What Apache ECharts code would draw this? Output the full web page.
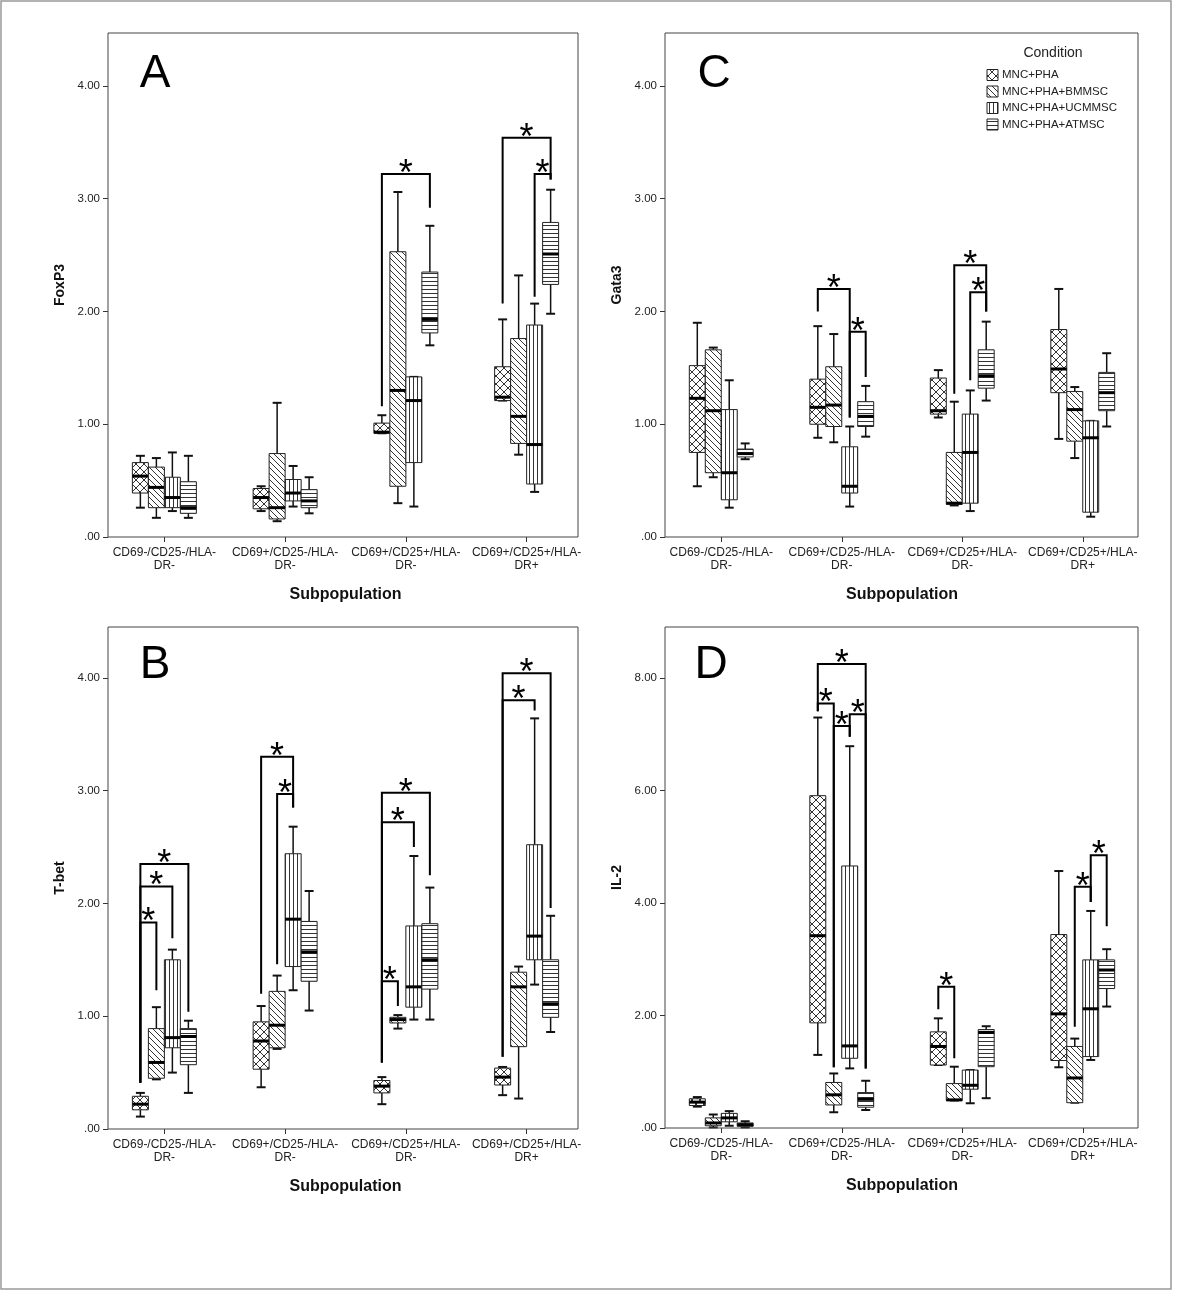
<!DOCTYPE html>
<html><head><meta charset="utf-8">
<script src="https://cdn.jsdelivr.net/npm/echarts@6/dist/echarts.min.js"></script>
<style>html,body{margin:0;padding:0;background:#fff}#chart{width:1184px;height:1301px}</style>
</head><body><div id="chart"></div>
<script>
// ---------- categories / conditions ----------
const subpopulations = ['CD69-/CD25-/HLA-DR-', 'CD69+/CD25-/HLA-DR-', 'CD69+/CD25+/HLA-DR-', 'CD69+/CD25+/HLA-DR+'];
const conditions = ['MNC+PHA', 'MNC+PHA+BMMSC', 'MNC+PHA+UCMMSC', 'MNC+PHA+ATMSC'];
const yTicks4 = [0, 1, 2, 3, 4];
const yTicks8 = [0, 2, 4, 6, 8];

// ---------- box statistics: [low whisker, Q1, median, Q3, high whisker] per subpopulation ----------
const foxp3_PHA    = [[0.26,0.39,0.54,0.66,0.72],[0.23,0.25,0.35,0.43,0.45],[0.92,0.92,0.93,1.01,1.08],[1.21,1.21,1.24,1.51,1.93]];
const foxp3_BMMSC  = [[0.17,0.26,0.44,0.62,0.70],[0.14,0.16,0.26,0.74,1.19],[0.30,0.45,1.30,2.53,3.06],[0.73,0.83,1.07,1.76,2.32]];
const foxp3_UCMMSC = [[0.23,0.26,0.35,0.53,0.75],[0.27,0.32,0.39,0.51,0.63],[0.27,0.66,1.21,1.42,1.42],[0.40,0.47,0.82,1.88,2.07]];
const foxp3_ATMSC  = [[0.17,0.21,0.26,0.49,0.72],[0.21,0.26,0.32,0.42,0.53],[1.70,1.81,1.93,2.35,2.76],[1.98,2.24,2.51,2.79,3.08]];

const gata3_PHA    = [[0.45,0.75,1.23,1.52,1.90],[0.88,1.00,1.15,1.40,1.87],[1.06,1.09,1.12,1.41,1.48],[0.87,1.28,1.49,1.84,2.20]];
const gata3_BMMSC  = [[0.53,0.57,1.12,1.66,1.68],[0.84,0.98,1.17,1.51,1.80],[0.28,0.29,0.30,0.75,1.20],[0.70,0.85,1.13,1.29,1.33]];
const gata3_UCMMSC = [[0.26,0.33,0.57,1.13,1.39],[0.27,0.39,0.45,0.80,0.98],[0.23,0.30,0.75,1.09,1.30],[0.18,0.22,0.88,1.03,1.03]];
const gata3_ATMSC  = [[0.69,0.71,0.74,0.78,0.83],[0.89,0.98,1.07,1.20,1.34],[1.21,1.32,1.43,1.66,1.91],[0.98,1.12,1.28,1.46,1.63]];

const tbet_PHA     = [[0.11,0.17,0.22,0.29,0.32],[0.37,0.53,0.78,0.95,1.09],[0.22,0.32,0.38,0.43,0.46],[0.30,0.39,0.46,0.54,0.55]];
const tbet_BMMSC   = [[0.44,0.45,0.59,0.89,1.08],[0.71,0.72,0.92,1.22,1.36],[0.89,0.94,0.97,0.99,1.01],[0.27,0.73,1.26,1.39,1.44]];
const tbet_UCMMSC  = [[0.50,0.72,0.81,1.50,1.59],[1.23,1.44,1.86,2.44,2.68],[0.97,1.08,1.26,1.80,2.42],[1.28,1.50,1.71,2.52,3.64]];
const tbet_ATMSC   = [[0.32,0.57,0.82,0.89,0.96],[1.05,1.31,1.57,1.84,2.11],[0.97,1.24,1.50,1.82,2.14],[0.86,0.99,1.11,1.50,1.89]];

const il2_PHA      = [[0.38,0.40,0.46,0.52,0.55],[1.30,1.87,3.42,5.91,7.30],[1.12,1.12,1.45,1.71,1.95],[1.08,1.20,2.03,3.44,4.57]];
const il2_BMMSC    = [[0.01,0.04,0.09,0.18,0.24],[0.28,0.41,0.59,0.81,0.97],[0.49,0.49,0.50,0.79,1.09],[0.45,0.45,0.89,1.45,1.59]];
const il2_UCMMSC   = [[0.04,0.11,0.18,0.26,0.30],[1.06,1.24,1.46,4.66,6.79],[0.44,0.69,0.76,1.03,1.03],[1.21,1.27,2.12,2.99,3.86]];
const il2_ATMSC    = [[0.01,0.03,0.06,0.09,0.12],[0.32,0.37,0.51,0.63,0.84],[0.53,1.09,1.70,1.75,1.81],[2.16,2.48,2.81,2.99,3.18]];

// ---------- significance brackets: [subpopulation, from condition, to condition, bar level, from leg end, to leg end] ----------
const foxp3Brackets = [[2,0,3,3.22,1.16,2.92],[3,0,3,3.54,2.07,3.17],[3,2,3,3.22,2.13,3.17]];
const gata3Brackets = [[1,0,2,2.20,2.00,1.06],[1,2,3,1.82,1.06,1.42],[2,1,3,2.41,1.27,2.00],[2,2,3,2.17,1.39,2.00]];
const tbetBrackets  = [[0,0,1,1.83,0.41,1.23],[0,0,2,2.15,0.41,1.69],[0,0,3,2.35,0.41,1.04],
                       [1,0,2,3.30,1.20,2.85],[1,1,2,2.97,1.46,2.85],
                       [2,0,1,1.31,0.59,1.09],[2,0,2,2.72,0.59,2.50],[2,0,3,2.98,0.59,2.25],
                       [3,0,2,3.80,0.64,3.71],[3,0,3,4.04,0.64,1.96]];
const il2Brackets   = [[1,0,3,8.25,7.41,1.06],[1,0,1,7.55,7.41,1.08],[1,1,2,7.15,1.08,6.96],[1,2,3,7.36,6.96,1.06],
                       [2,0,1,2.51,2.11,1.24],[3,1,2,4.29,1.80,4.02],[3,2,3,4.85,4.02,3.59]];

// ---------- styling ----------
const FONT = '"Liberation Sans", Arial, sans-serif';
const BOX_FRAC = 0.1325;

function makePattern(kind) {
  const s = {cross: 8, diag: 6, vert: 4, horiz: 4}[kind];
  const cv = document.createElement('canvas');
  cv.width = s; cv.height = s;
  const g = cv.getContext('2d');
  g.fillStyle = '#fff'; g.fillRect(0, 0, s, s);
  g.strokeStyle = '#333'; g.lineWidth = 1;
  g.beginPath();
  if (kind === 'cross') { for (const o of [-s, 0, s]) { g.moveTo(o, 0); g.lineTo(o + s, s); g.moveTo(o + s, 0); g.lineTo(o, s); } }
  if (kind === 'diag') { for (const o of [-s, 0, s]) { g.moveTo(o, 0); g.lineTo(o + s, s); } }
  if (kind === 'vert') { g.moveTo(1.5, 0); g.lineTo(1.5, s); }
  if (kind === 'horiz') { g.moveTo(0, 1.5); g.lineTo(s, 1.5); }
  g.stroke();
  return {image: cv, repeat: 'repeat'};
}
const patterns = [makePattern('cross'), makePattern('diag'), makePattern('vert'), makePattern('horiz')];

function renderBox(params, api) {
  const cat = api.value(0), cond = api.value(1);
  const w = api.size([1, 0])[0] * BOX_FRAC;
  const cx = api.coord([cat, 0])[0] + (cond - 1.5) * w;
  const y = i => api.coord([cat, api.value(i)])[1];
  const yLow = y(2), yQ1 = y(3), yMed = y(4), yQ3 = y(5), yHigh = y(6);
  const cap = w * 0.28;
  return {type: 'group', children: [
    {type: 'line', shape: {x1: cx, y1: yQ3, x2: cx, y2: yHigh}, style: {stroke: '#111', lineWidth: 1.5}},
    {type: 'line', shape: {x1: cx, y1: yQ1, x2: cx, y2: yLow}, style: {stroke: '#111', lineWidth: 1.5}},
    {type: 'line', shape: {x1: cx - cap, y1: yHigh, x2: cx + cap, y2: yHigh}, style: {stroke: '#111', lineWidth: 2}},
    {type: 'line', shape: {x1: cx - cap, y1: yLow, x2: cx + cap, y2: yLow}, style: {stroke: '#111', lineWidth: 2}},
    {type: 'rect', shape: {x: cx - w / 2, y: yQ3, width: w, height: yQ1 - yQ3}, style: {fill: patterns[cond], stroke: '#222', lineWidth: 1}},
    {type: 'line', shape: {x1: cx - w / 2, y1: yMed, x2: cx + w / 2, y2: yMed}, style: {stroke: '#000', lineWidth: 3}}
  ]};
}

function renderBracket(params, api) {
  const cat = api.value(0), a = api.value(1), b = api.value(2);
  const w = api.size([1, 0])[0] * BOX_FRAC;
  const top = api.coord([cat, api.value(3)]);
  const xa = top[0] + (a - 1.5) * w, xb = top[0] + (b - 1.5) * w, yt = top[1];
  const ya = api.coord([cat, api.value(4)])[1], yb = api.coord([cat, api.value(5)])[1];
  return {type: 'group', children: [
    {type: 'polyline', shape: {points: [[xa, ya], [xa, yt], [xb, yt], [xb, yb]]}, style: {stroke: '#000', lineWidth: 2, fill: null}},
    {type: 'text', x: (xa + xb) / 2, y: yt + 1, style: {text: '*', fontSize: 36, fontFamily: FONT, align: 'center', verticalAlign: 'middle', fill: '#000'}}
  ]};
}

const panels = [
  {name: 'FoxP3', letter: 'A', sets: [foxp3_PHA, foxp3_BMMSC, foxp3_UCMMSC, foxp3_ATMSC], brackets: foxp3Brackets, max: 4.47, ticks: yTicks4,
   grid: {left: 104, top: 33, width: 483, height: 504}, frame: [108, 33, 470, 504], letterPos: [155, 74]},
  {name: 'Gata3', letter: 'C', sets: [gata3_PHA, gata3_BMMSC, gata3_UCMMSC, gata3_ATMSC], brackets: gata3Brackets, max: 4.47, ticks: yTicks4,
   grid: {left: 661, top: 33, width: 482, height: 504}, frame: [665, 33, 473, 504], letterPos: [714, 74]},
  {name: 'T-bet', letter: 'B', sets: [tbet_PHA, tbet_BMMSC, tbet_UCMMSC, tbet_ATMSC], brackets: tbetBrackets, max: 4.45, ticks: yTicks4,
   grid: {left: 104, top: 627, width: 483, height: 502}, frame: [108, 627, 470, 502], letterPos: [155, 665]},
  {name: 'IL-2', letter: 'D', sets: [il2_PHA, il2_BMMSC, il2_UCMMSC, il2_ATMSC], brackets: il2Brackets, max: 8.91, ticks: yTicks8,
   grid: {left: 661, top: 627, width: 482, height: 501}, frame: [665, 627, 473, 501], letterPos: [711, 665]}
];

const tickFmt = v => (v === 0 ? '.00' : Number(v).toFixed(2));
const grids = [], xAxes = [], yAxes = [], series = [], graphics = [];

graphics.push({type: 'rect', shape: {x: 1, y: 1, width: 1170, height: 1288}, style: {fill: null, stroke: '#999', lineWidth: 1.5}, silent: true});

panels.forEach((p, i) => {
  grids.push(Object.assign({show: false}, p.grid));
  xAxes.push({
    type: 'category', gridIndex: i, data: subpopulations, boundaryGap: true,
    axisLine: {show: false},
    axisTick: {show: true, alignWithLabel: true, length: 5, lineStyle: {color: '#333'}},
    axisLabel: {margin: 9, fontSize: 12, fontFamily: FONT, color: '#222', lineHeight: 13, interval: 0,
      formatter: s => s.replace('HLA-', 'HLA-\n')},
    name: 'Subpopulation', nameLocation: 'middle', nameGap: 50,
    nameTextStyle: {fontSize: 16, fontWeight: 'bold', fontFamily: FONT, color: '#111'}
  });
  yAxes.push({
    type: 'value', gridIndex: i, min: 0, max: p.max, offset: -4,
    axisLine: {show: false}, splitLine: {show: false},
    axisTick: {show: true, length: 5, customValues: p.ticks, lineStyle: {color: '#333'}},
    axisLabel: {customValues: p.ticks, formatter: tickFmt, fontSize: 11.5, fontFamily: FONT, color: '#222', margin: 8},
    name: p.name, nameLocation: 'middle', nameGap: 41,
    nameTextStyle: {fontSize: 14, fontWeight: 'bold', fontFamily: FONT, color: '#111'}
  });
  const boxData = [];
  p.sets.forEach((set, c) => set.forEach((st, k) => boxData.push([k, c].concat(st))));
  series.push({
    type: 'custom', xAxisIndex: i, yAxisIndex: i, data: boxData, renderItem: renderBox,
    encode: {x: 0, y: [2, 3, 4, 5, 6]}, silent: true, animation: false, clip: false
  });
  series.push({
    type: 'custom', xAxisIndex: i, yAxisIndex: i, data: p.brackets, renderItem: renderBracket,
    encode: {x: 0, y: [3, 4, 5]}, silent: true, animation: false, clip: false, z: 3
  });
  const f = p.frame;
  graphics.push({type: 'rect', shape: {x: f[0], y: f[1], width: f[2], height: f[3]}, style: {fill: null, stroke: '#444', lineWidth: 1}, silent: true, z: 10});
  graphics.push({type: 'text', x: p.letterPos[0], y: p.letterPos[1], style: {text: p.letter, fontSize: 46, fontFamily: FONT, fill: '#000', align: 'center', verticalAlign: 'middle'}, silent: true});
});

// legend (panel C)
graphics.push({type: 'text', x: 1053, y: 53, style: {text: 'Condition', fontSize: 14, fontFamily: FONT, fill: '#222', align: 'center', verticalAlign: 'middle'}, silent: true});
conditions.forEach((c, j) => {
  const yc = 75 + j * 16.5;
  graphics.push({type: 'rect', shape: {x: 987, y: yc - 5.5, width: 11, height: 11}, style: {fill: patterns[j], stroke: '#222', lineWidth: 1}, silent: true});
  graphics.push({type: 'text', x: 1002, y: yc, style: {text: c, fontSize: 11.5, fontFamily: FONT, fill: '#222', align: 'left', verticalAlign: 'middle'}, silent: true});
});

const chart = echarts.init(document.getElementById('chart'), null, {renderer: 'canvas', width: 1184, height: 1301});
chart.setOption({
  backgroundColor: '#fff', animation: false,
  grid: grids, xAxis: xAxes, yAxis: yAxes, series: series, graphic: graphics
});
</script></body></html>
